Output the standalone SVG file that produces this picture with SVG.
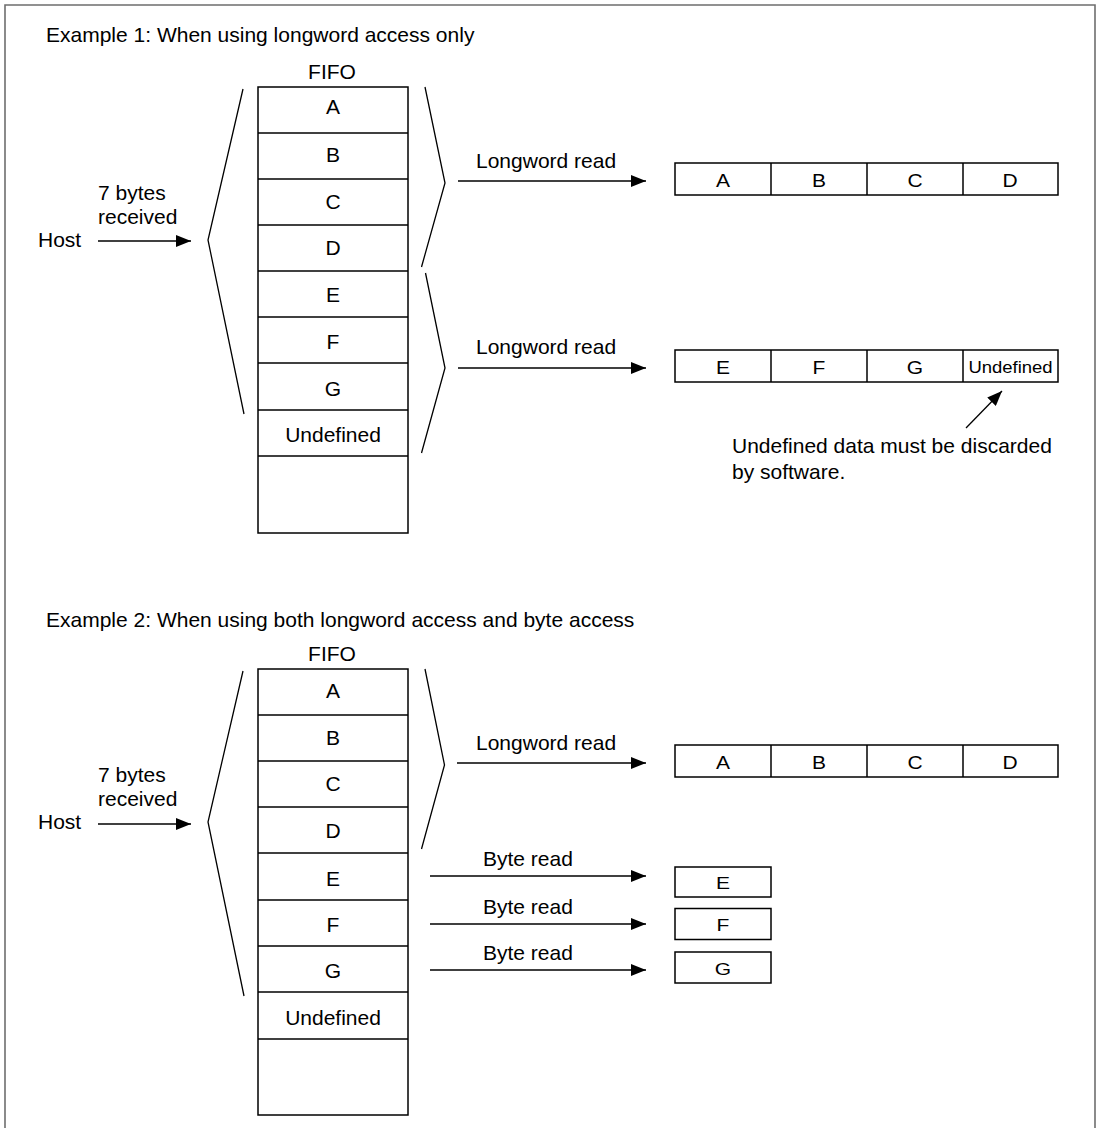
<svg xmlns="http://www.w3.org/2000/svg" width="1101" height="1128" viewBox="0 0 1101 1128">
<style>
.t { font-family: "Liberation Sans", Arial, Helvetica, sans-serif; font-size: 21px; fill: #000; }
.m { text-anchor: middle; }
.ln { stroke: #000; stroke-width: 1.3; fill: none; }
.cell { fill: #fff; stroke: #000; stroke-width: 1.5; }
.div { stroke: #000; stroke-width: 1.5; }
.arr { stroke: #000; stroke-width: 1.3; fill: none; marker-end: url(#ah); }
.frame { fill: none; stroke: #6e6e6e; stroke-width: 1.6; }
</style>
<defs>
<marker id="ah" markerUnits="userSpaceOnUse" markerWidth="16" markerHeight="12" refX="15" refY="6" orient="auto">
<path d="M0,0 L15,6 L0,12 z" fill="#000"/>
</marker>
</defs>
<rect width="1101" height="1128" fill="#fff"/>
<path class="frame" d="M5,1128 V5 H1095 V1128"/>

<!-- Example 1 -->
<text class="t" x="46" y="42">Example 1: When using longword access only</text>
<g id="host1">
<text class="t" x="38" y="247">Host</text>
<text class="t" x="98" y="200">7 bytes</text>
<text class="t" x="98" y="224">received</text>
</g>
<g id="fifo1">
<text class="t m" x="332" y="79">FIFO</text>
<rect class="cell" x="258" y="87" width="150" height="446"/>
<line class="div" x1="258" y1="133" x2="408" y2="133"/>
<line class="div" x1="258" y1="179" x2="408" y2="179"/>
<line class="div" x1="258" y1="225" x2="408" y2="225"/>
<line class="div" x1="258" y1="271" x2="408" y2="271"/>
<line class="div" x1="258" y1="317" x2="408" y2="317"/>
<line class="div" x1="258" y1="363" x2="408" y2="363"/>
<line class="div" x1="258" y1="410" x2="408" y2="410"/>
<line class="div" x1="258" y1="456" x2="408" y2="456"/>
<text class="t m" x="333" y="114">A</text>
<text class="t m" x="333" y="162">B</text>
<text class="t m" x="333" y="209">C</text>
<text class="t m" x="333" y="255">D</text>
<text class="t m" x="333" y="302">E</text>
<text class="t m" x="333" y="349">F</text>
<text class="t m" x="333" y="396">G</text>
<text class="t m" x="333" y="442">Undefined</text>
</g>
<g id="brackets1">
<polyline class="ln" points="243,89 208,240 244,414"/>
<polyline class="ln" points="425,87 445,183 421.5,267"/>
<polyline class="ln" points="425.5,273 445,368 421.5,453"/>
</g>
<g id="word1">
<rect class="cell" x="675" y="163" width="383" height="32"/>
<line class="div" x1="771" y1="163" x2="771" y2="195"/>
<line class="div" x1="867" y1="163" x2="867" y2="195"/>
<line class="div" x1="963" y1="163" x2="963" y2="195"/>
<text class="t m" transform="translate(723,187) scale(1,0.83)">A</text>
<text class="t m" transform="translate(819,187) scale(1,0.83)">B</text>
<text class="t m" transform="translate(915,187) scale(1,0.83)">C</text>
<text class="t m" transform="translate(1010,187) scale(1,0.83)">D</text>
</g>
<g id="word2">
<rect class="cell" x="675" y="350" width="383" height="32"/>
<line class="div" x1="771" y1="350" x2="771" y2="382"/>
<line class="div" x1="867" y1="350" x2="867" y2="382"/>
<line class="div" x1="963" y1="350" x2="963" y2="382"/>
<text class="t m" transform="translate(723,374) scale(1,0.83)">E</text>
<text class="t m" transform="translate(819,374) scale(1,0.83)">F</text>
<text class="t m" transform="translate(915,374) scale(1,0.83)">G</text>
<text class="t m" transform="translate(1010.5,373) scale(0.88,0.8)">Undefined</text>
</g>
<g id="note1">
<text class="t" x="732" y="453">Undefined data must be discarded</text>
<text class="t" x="732" y="479">by software.</text>
</g>

<!-- Example 2 -->
<text class="t" x="46" y="627">Example 2: When using both longword access and byte access</text>
<g id="host2">
<text class="t" x="38" y="829">Host</text>
<text class="t" x="98" y="782">7 bytes</text>
<text class="t" x="98" y="806">received</text>
</g>
<g id="fifo2">
<text class="t m" x="332" y="661">FIFO</text>
<rect class="cell" x="258" y="669" width="150" height="446"/>
<line class="div" x1="258" y1="715" x2="408" y2="715"/>
<line class="div" x1="258" y1="761" x2="408" y2="761"/>
<line class="div" x1="258" y1="807" x2="408" y2="807"/>
<line class="div" x1="258" y1="853" x2="408" y2="853"/>
<line class="div" x1="258" y1="900" x2="408" y2="900"/>
<line class="div" x1="258" y1="946" x2="408" y2="946"/>
<line class="div" x1="258" y1="992" x2="408" y2="992"/>
<line class="div" x1="258" y1="1039" x2="408" y2="1039"/>
<text class="t m" x="333" y="698">A</text>
<text class="t m" x="333" y="745">B</text>
<text class="t m" x="333" y="791">C</text>
<text class="t m" x="333" y="838">D</text>
<text class="t m" x="333" y="886">E</text>
<text class="t m" x="333" y="932">F</text>
<text class="t m" x="333" y="978">G</text>
<text class="t m" x="333" y="1025">Undefined</text>
</g>
<g id="brackets2">
<polyline class="ln" points="243,671 208,822 244,996"/>
<polyline class="ln" points="425,669 444.5,765 421.5,849"/>
</g>
<g id="word3">
<rect class="cell" x="675" y="745" width="383" height="32"/>
<line class="div" x1="771" y1="745" x2="771" y2="777"/>
<line class="div" x1="867" y1="745" x2="867" y2="777"/>
<line class="div" x1="963" y1="745" x2="963" y2="777"/>
<text class="t m" transform="translate(723,769) scale(1,0.83)">A</text>
<text class="t m" transform="translate(819,769) scale(1,0.83)">B</text>
<text class="t m" transform="translate(915,769) scale(1,0.83)">C</text>
<text class="t m" transform="translate(1010,769) scale(1,0.83)">D</text>
</g>
<g id="byteE">
<rect class="cell" x="675" y="867" width="96" height="30"/>
<text class="t m" transform="translate(723,888.5) scale(1,0.8)">E</text>
</g>
<g id="byteF">
<rect class="cell" x="675" y="908.5" width="96" height="31"/>
<text class="t m" transform="translate(723,931) scale(1,0.8)">F</text>
</g>
<g id="byteG">
<rect class="cell" x="675" y="952" width="96" height="31"/>
<text class="t m" transform="translate(723,975) scale(1,0.8)">G</text>
</g>

<!-- connectors -->
<g id="connectors">
<line class="arr" x1="98" y1="241" x2="191" y2="241"/>
<line class="arr" x1="458" y1="181" x2="646" y2="181"/>
<line class="arr" x1="458" y1="368" x2="646" y2="368"/>
<line class="arr" x1="966" y1="428" x2="1002" y2="391"/>
<line class="arr" x1="98" y1="824" x2="191" y2="824"/>
<line class="arr" x1="457" y1="763" x2="646" y2="763"/>
<line class="arr" x1="430" y1="876" x2="646" y2="876"/>
<line class="arr" x1="430" y1="924" x2="646" y2="924"/>
<line class="arr" x1="430" y1="970" x2="646" y2="970"/>
</g>
<g id="labels">
<text class="t" x="476" y="168">Longword read</text>
<text class="t" x="476" y="354">Longword read</text>
<text class="t" x="476" y="750">Longword read</text>
<text class="t" x="483" y="866">Byte read</text>
<text class="t" x="483" y="914">Byte read</text>
<text class="t" x="483" y="960">Byte read</text>
</g>
</svg>
